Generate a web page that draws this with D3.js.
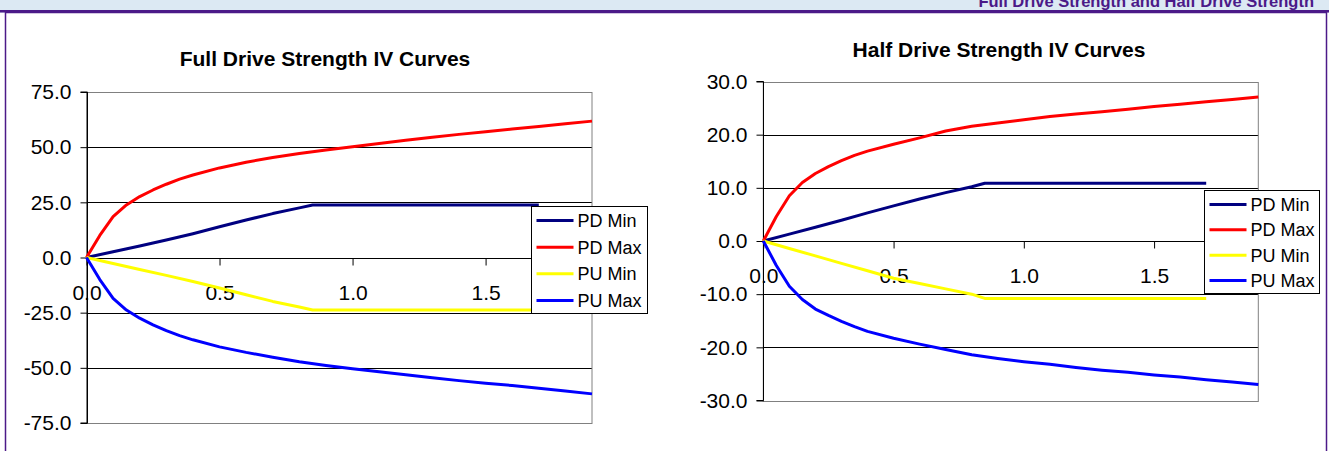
<!DOCTYPE html>
<html><head><meta charset="utf-8">
<script src="https://cdn.jsdelivr.net/npm/d3@7/dist/d3.min.js"></script>
<style>
html,body{margin:0;padding:0;background:#fff;}
svg{display:block;font-family:"Liberation Sans",Arial,sans-serif;}
</style></head>
<body>
<svg id="c" width="1329" height="451"></svg>
<script>
// ---- data ----
const headerText = "Full Drive Strength and Half Drive Strength";
const seriesNames = ["PD Min", "PD Max", "PU Min", "PU Max"];
const seriesColors = ["#000080", "#ff0000", "#ffff00", "#0000ff"];
const xTicks = [0.0, 0.5, 1.0, 1.5];
const fullYTicks = [-75, -50, -25, 0, 25, 50, 75];
const halfYTicks = [-30, -20, -10, 0, 10, 20, 30];

const voltsMax = [0,0.05,0.1,0.15,0.2,0.25,0.3,0.35,0.4,0.5,0.6,0.7,0.8,0.9,1.0,1.1,1.2,1.3,1.4,1.5,1.6,1.7,1.8,1.9];
const voltsMin = [0,0.1,0.2,0.3,0.4,0.5,0.6,0.7,0.8,0.85,0.9,1.0,1.1,1.2,1.3,1.4,1.5,1.6,1.7];

const fullPDMin = [0,2.6,5.2,7.9,10.8,13.9,17.0,19.9,22.5,23.8,23.8,23.8,23.8,23.8,23.8,23.8,23.8,23.8,23.8];
const fullPDMax = [0,10.0,18.5,23.8,27.6,30.6,33.2,35.5,37.4,40.6,43.2,45.3,47.1,48.7,50.2,51.7,53.1,54.5,55.8,57.0,58.2,59.4,60.6,61.8];
const fullPUMin = [0,-2.7,-5.4,-8.1,-10.9,-13.8,-16.9,-19.9,-22.4,-23.8,-23.8,-23.8,-23.8,-23.8,-23.8,-23.8,-23.8,-23.8,-23.8];
const fullPUMax = [0,-10.0,-18.5,-23.8,-27.5,-30.5,-33.1,-35.4,-37.3,-40.5,-43.0,-45.2,-47.2,-48.9,-50.4,-51.8,-53.1,-54.5,-55.8,-57.0,-58.0,-59.3,-60.5,-61.8];

const halfPDMin = [0,1.3,2.6,3.9,5.3,6.6,7.9,9.1,10.2,10.85,10.85,10.85,10.85,10.85,10.85,10.85,10.85,10.85,10.85];
const halfPDMax = [0,4.6,8.5,11.0,12.7,14.0,15.1,16.1,16.9,18.2,19.4,20.7,21.6,22.2,22.8,23.4,23.9,24.3,24.8,25.3,25.7,26.2,26.6,27.1];
const halfPUMin = [0,-1.4,-2.8,-4.2,-5.6,-7.0,-8.0,-9.0,-10.0,-10.8,-10.8,-10.8,-10.8,-10.8,-10.8,-10.8,-10.8,-10.8,-10.8];
const halfPUMax = [0,-4.6,-8.5,-11.0,-12.8,-14.0,-15.1,-16.1,-17.0,-18.3,-19.4,-20.4,-21.4,-22.1,-22.7,-23.2,-23.8,-24.3,-24.7,-25.2,-25.6,-26.1,-26.5,-27.0];

const charts = [
  {title:"Full Drive Strength IV Curves", yTicks: fullYTicks,
   series:[[voltsMin,fullPDMin],[voltsMax,fullPDMax],[voltsMin,fullPUMin],[voltsMax,fullPUMax]],
   x0:86.5, x1:592, y0:92, y1:423, titleX:325, titleY:66,
   legend:{x:531.5, y:206.5, w:116, h:107}},
  {title:"Half Drive Strength IV Curves", yTicks: halfYTicks,
   series:[[voltsMin,halfPDMin],[voltsMax,halfPDMax],[voltsMin,halfPUMin],[voltsMax,halfPUMax]],
   x0:763.3, x1:1258.3, y0:81.5, y1:400.5, titleX:999, titleY:57,
   legend:{x:1204.5, y:190.5, w:115, h:103}}
];

const fmt = v => d3.format(".1f")(v).replace("\u2212","-");
const svg = d3.select("#c");
// ---- frame / header ----
svg.append("rect").attr("x",0).attr("y",0).attr("width",1329).attr("height",13).attr("fill","#dce9f3");
svg.append("text").attr("x",1314).attr("y",6.5).attr("text-anchor","end")
  .attr("font-size",16.5).attr("font-weight","bold").attr("fill","#4b1a88").text(headerText);
svg.append("rect").attr("x",0).attr("y",10).attr("width",1329).attr("height",2.5).attr("fill","#4b1a88");
svg.append("rect").attr("x",5.5).attr("y",12.5).attr("width",1321).attr("height",445)
  .attr("fill","#fff").attr("stroke","#4b1a88").attr("stroke-width",1.5);

charts.forEach(ch => {
  const ext = d3.extent(ch.yTicks);
  const x = d3.scaleLinear().domain([0,1.9]).range([ch.x0,ch.x1]);
  const y = d3.scaleLinear().domain(ext).range([ch.y1,ch.y0]);
  const g = svg.append("g");

  // gridlines
  g.append("g").selectAll("line").data(ch.yTicks.filter(t=>t!==ext[1] && t!==ext[0])).join("line")
    .attr("x1",ch.x0).attr("x2",ch.x1)
    .attr("y1",d=>Math.round(y(d))+0.5).attr("y2",d=>Math.round(y(d))+0.5)
    .attr("stroke","#000").attr("stroke-width",1);
  // plot border (gray)
  g.append("rect").attr("x",ch.x0).attr("y",Math.round(y(ext[1]))+0.5)
    .attr("width",ch.x1-ch.x0).attr("height",Math.round(y(ext[0]))-Math.round(y(ext[1])))
    .attr("fill","none").attr("stroke","#808080").attr("stroke-width",1);

  // y axis
  const yAxis = d3.axisLeft(y).tickValues(ch.yTicks).tickFormat(fmt).tickSize(7).tickPadding(9);
  const ya = g.append("g").attr("transform",`translate(${Math.round(ch.x0)+0.5},0)`).call(yAxis);
  ya.select(".domain").attr("stroke","#000").attr("d",`M-7,${y(ext[1])}H0V${y(ext[0])}H-7`);
  ya.selectAll(".tick line").attr("stroke","#000");
  ya.selectAll("text").attr("font-size",21).attr("fill","#000")
    .attr("font-family","'Liberation Sans',Arial,sans-serif");

  // x axis at zero
  const xAxis = d3.axisBottom(x).tickValues(xTicks).tickFormat(fmt).tickSize(7).tickPadding(20);
  const xa = g.append("g").attr("transform",`translate(0,${Math.round(y(0))+0.5})`).call(xAxis);
  xa.select(".domain").attr("stroke","#000").attr("d",`M${ch.x0},0H${ch.x1}`);
  xa.selectAll(".tick line").attr("stroke","#000");
  xa.selectAll("text").attr("font-size",21).attr("fill","#000")
    .attr("font-family","'Liberation Sans',Arial,sans-serif");

  // lines
  const line = d3.line().x(d=>x(d[0])).y(d=>y(d[1]));
  ch.series.forEach((s,i) => {
    const pts = s[0].map((v,k)=>[v,s[1][k]]);
    g.append("path").datum(pts).attr("d",line).attr("fill","none")
      .attr("stroke",seriesColors[i]).attr("stroke-width",3).attr("stroke-linejoin","round");
  });

  // title
  g.append("text").attr("x",ch.titleX).attr("y",ch.titleY).attr("text-anchor","middle")
    .attr("font-size",21).attr("font-weight","bold").attr("fill","#000").text(ch.title);

  // legend
  const L = ch.legend;
  const lg = g.append("g").attr("transform",`translate(${L.x},${L.y})`);
  lg.append("rect").attr("width",L.w).attr("height",L.h).attr("fill","#fff").attr("stroke","#000").attr("stroke-width",1);
  const step = (L.h-27)/3;
  seriesNames.forEach((n,i)=>{
    const cy = 14 + i*step;
    lg.append("line").attr("x1",5).attr("x2",42).attr("y1",cy).attr("y2",cy)
      .attr("stroke",seriesColors[i]).attr("stroke-width",3);
    lg.append("text").attr("x",46).attr("y",cy).attr("dy","0.36em")
      .attr("font-size",18).attr("fill","#000").text(n);
  });
});
</script>
</body></html>
